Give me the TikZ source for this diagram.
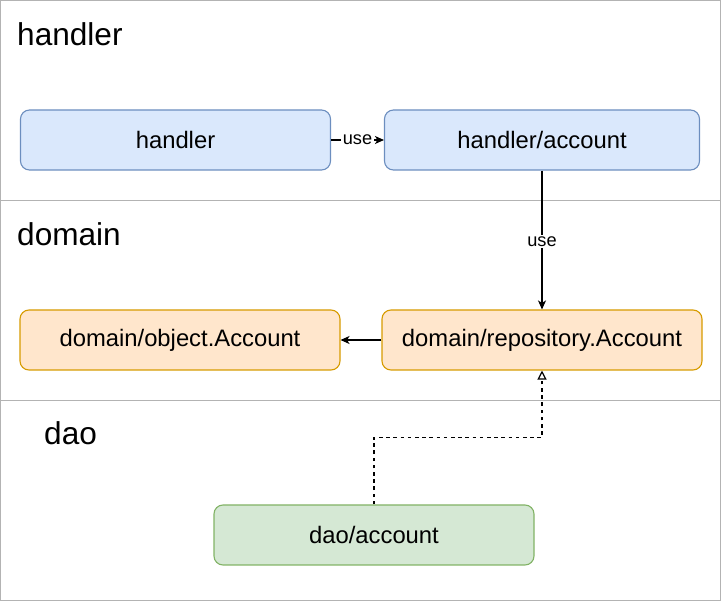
\documentclass[tikz,border=0pt]{standalone}
\usepackage{fontspec}
\setmainfont{Liberation Sans}
\usetikzlibrary{arrows.meta}
\definecolor{laneline}{HTML}{B3B3B3}
\definecolor{bluefill}{HTML}{DAE8FC}
\definecolor{bluedraw}{HTML}{6C8EBF}
\definecolor{orangefill}{HTML}{FFE6CC}
\definecolor{orangedraw}{HTML}{D79B00}
\definecolor{greenfill}{HTML}{D5E8D4}
\definecolor{greendraw}{HTML}{82B366}
\tikzset{
  box/.style={rounded corners=9pt, line width=1.1pt, minimum height=60pt, inner sep=0pt,
    font=\fontsize{23.8}{28}\selectfont, text=black},
  bluebox/.style={box, fill=bluefill, draw=bluedraw},
  orangebox/.style={box, fill=orangefill, draw=orangedraw},
  greenbox/.style={box, fill=greenfill, draw=greendraw},
  lanetitle/.style={anchor=base west, inner sep=0pt, font=\fontsize{31.6}{36}\selectfont, text=black},
  arr/.style={line width=1.2pt, -{Stealth[length=9pt,width=8pt,inset=2.5pt]}},
  dsh/.style={line width=1.2pt, dash pattern=on 3.6pt off 3.6pt,
    -{Triangle[open,length=9pt,width=9pt,fill=white]}},
  lbl/.style={fill=white, inner sep=1.5pt, font=\fontsize{18.2}{21}\selectfont, text=black}
}
\begin{document}
\begin{tikzpicture}[x=1pt,y=-1pt]
\useasboundingbox (0,0) rectangle (721,601);
% lanes
\draw[laneline, line width=1.2pt] (0.6,0.6) rectangle (720.4,600.4);
\draw[laneline, line width=1.2pt] (0.6,200.5) -- (720.4,200.5);
\draw[laneline, line width=1.2pt] (0.6,400.5) -- (720.4,400.5);
\node[lanetitle] (tHandler) at (17,46) {handler};
\node[lanetitle] (tDomain) at (17,246) {domain};
\node[lanetitle] (tDao) at (44,445) {dao};
% nodes
\node[bluebox, minimum width=310pt] (handler) at (175.5,140) {handler};
\node[bluebox, minimum width=315pt] (hacc) at (542,140) {handler/account};
\node[orangebox, minimum width=320pt] (obj) at (180,340) {domain/object.Account};
\node[orangebox, minimum width=320pt] (repo) at (542,340) {domain/repository.Account};
\node[greenbox, minimum width=320pt] (dao) at (374,535) {dao/account};
% edges
\draw[arr] (handler) -- node[lbl] {use} (hacc);
\draw[arr] (hacc) -- node[lbl, pos=0.51] {use} (repo);
\draw[arr] (repo) -- (obj);
\coordinate (bend) at (374,437.5);
\draw[dsh] (dao.north) -- (bend) -| (repo.south);
\end{tikzpicture}
\end{document}
